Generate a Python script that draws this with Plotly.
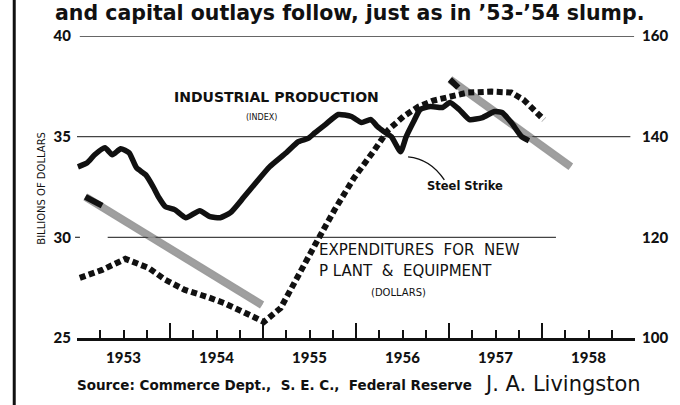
import plotly.graph_objects as go

# ---------------- data ----------------
# Industrial production index (right axis), x in decimal years
ip_x = [1953.01, 1953.11, 1953.19, 1953.30, 1953.38, 1953.47, 1953.56, 1953.64, 1953.74, 1953.82,
        1953.88, 1953.95, 1954.05, 1954.17, 1954.32, 1954.43, 1954.54, 1954.65, 1954.79, 1954.93,
        1955.07, 1955.25, 1955.38, 1955.49, 1955.56, 1955.67, 1955.81, 1955.95, 1956.06, 1956.16,
        1956.23, 1956.30, 1956.38, 1956.48, 1956.54, 1956.62, 1956.69, 1956.80, 1956.93, 1957.01,
        1957.11, 1957.22, 1957.36, 1957.49, 1957.57, 1957.67, 1957.78, 1957.86]
ip_y = [134.0, 134.8, 136.4, 137.8, 136.4, 137.6, 136.8, 133.8, 132.4, 130.0,
        127.9, 126.1, 125.5, 123.9, 125.3, 124.1, 123.9, 124.9, 127.9, 131.0,
        134.0, 136.8, 139.0, 139.7, 140.8, 142.4, 144.4, 144.0, 142.8, 143.4,
        142.0, 141.0, 140.0, 137.0, 140.0, 143.0, 145.4, 146.0, 145.8, 146.8,
        145.4, 143.4, 143.8, 145.0, 144.8, 142.8, 140.0, 139.2]

# Expenditures for new plant & equipment, billions of dollars (left axis)
pe_x = [1953.03, 1953.27, 1953.52, 1953.77, 1953.95, 1954.16, 1954.40, 1954.58, 1954.79, 1955.01,
        1955.19, 1955.35, 1955.56, 1955.77, 1955.98, 1956.20, 1956.35, 1956.51, 1956.67, 1956.83,
        1956.99, 1957.20, 1957.46, 1957.67, 1957.80, 1957.91, 1958.02]
pe_y = [27.99, 28.38, 28.93, 28.48, 27.89, 27.39, 27.04, 26.74, 26.29, 25.80,
        26.49, 27.89, 29.63, 31.37, 32.96, 34.35, 35.35, 36.00, 36.49, 36.79,
        36.99, 37.19, 37.24, 37.19, 36.84, 36.39, 35.85]

# Hand-drawn grey trend arrows (left-axis units)
arrow1_x = [1953.09, 1954.99]
arrow1_y = [32.01, 26.64]
arrow1_tail_x = [1953.09, 1953.27]
arrow1_tail_y = [32.01, 31.57]
arrow2_x = [1957.01, 1958.31]
arrow2_y = [37.84, 33.51]
arrow2_tail_x = [1957.01, 1957.10]
arrow2_tail_y = [37.84, 37.44]

# Axes
left_ticks = [25, 30, 35, 40]
right_ticks = [100, 120, 140, 160]
year_ticks = [1953, 1954, 1955, 1956, 1957, 1958, 1959]
year_labels = ["1953", "1954", "1955", "1956", "1957", "1958"]
year_label_pos = [1953.5, 1954.5, 1955.5, 1956.5, 1957.5, 1958.5]

FONT = "Lato"
DV = "DejaVu Sans"
BLACK = "#111111"

fig = go.Figure()

# grey arrows (below the data lines)
for ax, ay, tx, ty in [(arrow1_x, arrow1_y, arrow1_tail_x, arrow1_tail_y),
                       (arrow2_x, arrow2_y, arrow2_tail_x, arrow2_tail_y)]:
    fig.add_trace(go.Scatter(x=ax, y=ay, mode="lines", yaxis="y",
                             line=dict(color="rgba(60,60,60,0.5)", width=8),
                             hoverinfo="skip", showlegend=False))
    fig.add_trace(go.Scatter(x=ax, y=ay, mode="lines", yaxis="y",
                             line=dict(color="rgba(160,160,160,0.8)", width=4),
                             hoverinfo="skip", showlegend=False))
    fig.add_trace(go.Scatter(x=tx, y=ty, mode="lines", yaxis="y",
                             line=dict(color=BLACK, width=6),
                             hoverinfo="skip", showlegend=False))

# plant & equipment (dotted)
fig.add_trace(go.Scatter(x=pe_x, y=pe_y, mode="lines", yaxis="y",
                         line=dict(color=BLACK, width=6, dash="6px,3.5px"),
                         hoverinfo="skip", showlegend=False))

# industrial production (solid)
fig.add_trace(go.Scatter(x=ip_x, y=ip_y, mode="lines", yaxis="y2",
                         line=dict(color=BLACK, width=5.5, shape="spline", smoothing=0.5),
                         hoverinfo="skip", showlegend=False))

# invisible trace to carry the year-label axis
fig.add_trace(go.Scatter(x=year_label_pos, y=[None] * len(year_label_pos), xaxis="x2", yaxis="y",
                         mode="lines", hoverinfo="skip", showlegend=False))

W_PLOT = 569.0
H_PLOT = 302.0
def px(xp):
    return (xp - 77) / W_PLOT
def py(yp):
    return (338 - yp) / H_PLOT

shapes = [
    # grid lines
    dict(type="line", xref="x", yref="y", x0=1953.03, x1=1958.99, y0=40, y1=40,
         line=dict(color="#333333", width=1.5), layer="below"),
    dict(type="line", xref="x", yref="y", x0=1953.0, x1=1958.95, y0=35, y1=35,
         line=dict(color="#444444", width=1.3), layer="below"),
    dict(type="line", xref="x", yref="y", x0=1953.33, x1=1958.15, y0=30, y1=30,
         line=dict(color="#444444", width=1.3), layer="below"),
    dict(type="line", xref="paper", yref="y", x0=px(75), x1=px(80), y0=30, y1=30,
         line=dict(color="#444444", width=1.3), layer="below"),
    # left frame rule
    dict(type="line", xref="paper", yref="paper", x0=px(13), x1=px(13), y0=py(0), y1=py(405),
         line=dict(color=BLACK, width=3)),
    # steel strike leader
    dict(type="path", xref="x", yref="y",
         path="M 1956.56,34.0 Q 1956.80,33.9 1956.95,32.85",
         line=dict(color=BLACK, width=1.3)),
]

annotations = [
    dict(text="and capital outlays follow, just as in ’53-’54 slump.",
         xref="paper", yref="paper", x=px(355), y=py(13), xanchor="center", yanchor="middle",
         showarrow=False, font=dict(family=DV, size=20.5, color=BLACK, weight=700)),
    dict(text="BILLIONS OF DOLLARS", xref="paper", yref="paper", x=px(40), y=py(188),
         textangle=-90, showarrow=False, xanchor="center", yanchor="middle",
         font=dict(family=DV, size=10, color=BLACK)),
    dict(text="INDUSTRIAL PRODUCTION", xref="paper", yref="paper", x=px(280), y=py(97),
         showarrow=False, xanchor="center", yanchor="middle",
         font=dict(family=DV, size=14, color=BLACK, weight=700)),
    dict(text="(INDEX)", xref="paper", yref="paper", x=px(265), y=py(117),
         showarrow=False, xanchor="center", yanchor="middle",
         font=dict(family=DV, size=8, color=BLACK)),
    dict(text="Steel Strike", xref="paper", yref="paper", x=px(473), y=py(186),
         showarrow=False, xanchor="center", yanchor="middle",
         font=dict(family=DV, size=11.5, color=BLACK, weight=700)),
    dict(text="EXPENDITURES  FOR  NEW", xref="paper", yref="paper", x=px(322), y=py(250),
         showarrow=False, xanchor="left", yanchor="middle",
         font=dict(family=DV, size=15, color=BLACK)),
    dict(text="P LANT  &  EQUIPMENT", xref="paper", yref="paper", x=px(322), y=py(271),
         showarrow=False, xanchor="left", yanchor="middle",
         font=dict(family=DV, size=15, color=BLACK)),
    dict(text="(DOLLARS)", xref="paper", yref="paper", x=px(405), y=py(292),
         showarrow=False, xanchor="center", yanchor="middle",
         font=dict(family=DV, size=10, color=BLACK)),
    dict(text="Source: Commerce Dept.,  S. E. C.,  Federal Reserve", xref="paper", yref="paper",
         x=px(75), y=py(385), showarrow=False, xanchor="left", yanchor="middle",
         font=dict(family=DV, size=13.5, color=BLACK, weight=700)),
    dict(text="J. A. Livingston", xref="paper", yref="paper",
         x=px(490), y=py(384), showarrow=False, xanchor="left", yanchor="middle",
         font=dict(family=DV, size=21, color=BLACK)),
]

tickfont = dict(family=FONT, size=15, color=BLACK, weight=900)

fig.update_layout(
    width=680, height=405,
    margin=dict(l=77, r=34, t=36, b=67),
    paper_bgcolor="white", plot_bgcolor="white",
    shapes=shapes, annotations=annotations,
    xaxis=dict(range=[1953, 1959], tickmode="array", tickvals=year_ticks,
               ticks="inside", ticklen=15, tickwidth=1.5, tickcolor=BLACK,
               showticklabels=False, showgrid=False, zeroline=False,
               showline=True, linecolor=BLACK, linewidth=2.5,
               minor=dict(tickmode="linear", tick0=1953, dtick=0.25, ticks="inside",
                          ticklen=8, tickwidth=1.5, tickcolor=BLACK, showgrid=False)),
    xaxis2=dict(range=[1953, 1959], overlaying="x", side="bottom", anchor="y",
                tickmode="array", tickvals=year_label_pos, ticktext=year_labels,
                ticks="", showgrid=False, zeroline=False, showline=False,
                ticklabelstandoff=9,
                tickfont=dict(family=FONT, size=15, color=BLACK, weight=900)),
    yaxis=dict(range=[25, 40], tickmode="array", tickvals=left_ticks,
               showgrid=False, zeroline=False, ticks="", tickfont=tickfont,
               ticklabelstandoff=5),
    yaxis2=dict(range=[100, 160], overlaying="y", side="right", tickmode="array",
                tickvals=right_ticks, showgrid=False, zeroline=False, ticks="",
                tickfont=dict(family=FONT, size=15, color=BLACK, weight=900),
                ticklabelstandoff=6),
)

fig.write_html("out.html", post_script="document.body.style.margin='0';",
               config={"displayModeBar": False})
